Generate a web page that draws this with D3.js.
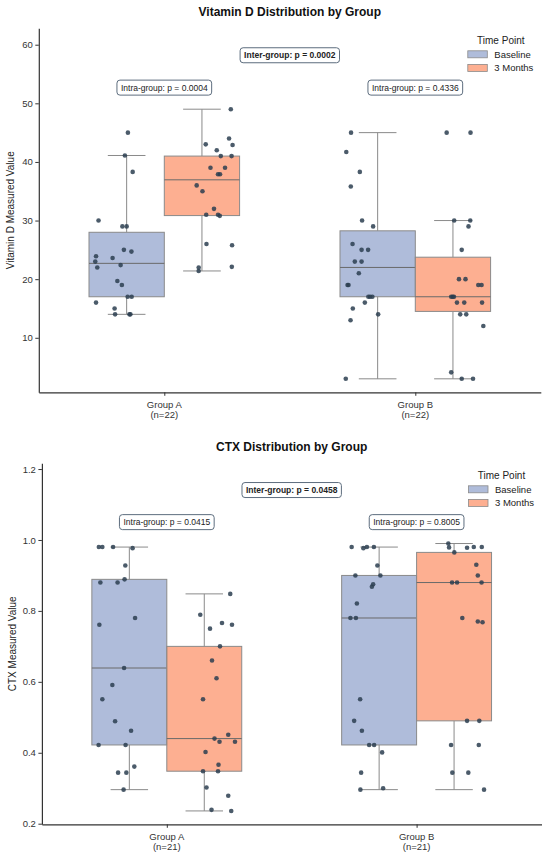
<!DOCTYPE html>
<html>
<head>
<meta charset="utf-8">
<script src="https://cdn.jsdelivr.net/npm/d3@7"></script>
<style>
body{margin:0;background:#fff}
svg{display:block;font-family:"Liberation Sans",Arial,sans-serif}
</style>
</head>
<body>
<svg id="fig"></svg>
<script>
var groups = ["Group A", "Group B"];
var timePoints = ["Baseline", "3 Months"];

// Vitamin D (jitter = horizontal offset in category units)
var vitdBaseA = [45.0,41.1,38.3,30.0,29.0,29.0,25.0,24.7,23.9,23.6,23.0,22.4,22.0,19.7,19.0,17.0,17.0,16.0,15.0,14.0,14.0,14.0];
var vitdBaseAJit = [0.005,-0.007,0.024,-0.112,-0.017,0.0,-0.011,0.019,-0.122,-0.056,-0.125,-0.024,-0.117,-0.037,-0.019,0.004,0.020,-0.122,-0.048,-0.046,0.011,0.015];
var vitd3mA = [49.0,44.0,43.0,42.9,42.0,41.0,41.0,39.0,39.0,37.9,37.9,36.0,35.0,32.0,31.0,31.0,30.8,26.0,25.8,22.1,22.0,21.4];
var vitd3mAJit = [0.115,0.108,0.015,0.122,0.059,0.075,0.118,0.034,0.092,0.064,0.072,-0.021,0.002,0.048,0.017,0.064,0.071,0.018,0.120,0.119,-0.013,-0.013];
var vitdBaseB = [45.0,41.7,38.3,35.8,30.0,29.0,26.0,25.0,25.0,23.0,23.0,21.0,19.0,19.0,17.0,17.0,17.0,16.0,15.0,14.0,13.0,3.0];
var vitdBaseBJit = [-0.106,-0.125,-0.071,-0.107,-0.062,-0.018,-0.100,-0.064,-0.038,-0.091,-0.064,-0.075,-0.120,-0.116,-0.037,-0.030,-0.021,-0.051,-0.099,0.002,-0.108,-0.127];
var vitd3mB = [45.0,45.0,30.0,30.0,29.0,25.0,20.0,20.0,19.0,19.0,17.0,17.0,17.0,16.0,16.0,16.0,14.0,14.0,12.0,4.1,3.0,3.0];
var vitd3mBJit = [-0.025,0.070,0.005,0.069,0.062,0.035,0.024,0.050,0.101,0.114,-0.007,-0.001,0.004,0.016,0.045,0.116,0.029,0.053,0.121,-0.007,0.035,0.080];

// CTX
var ctxBaseA = [0.98,0.98,0.98,0.977,0.928,0.889,0.880,0.880,0.780,0.761,0.639,0.591,0.551,0.489,0.462,0.422,0.422,0.361,0.344,0.344,0.296];
var ctxBaseAJit = [-0.122,-0.108,-0.065,0.013,-0.016,-0.019,-0.116,-0.047,0.023,-0.120,-0.021,-0.068,-0.108,-0.057,0.007,-0.123,-0.015,0.020,-0.045,-0.012,-0.023];
var ctx3mA = [0.848,0.789,0.766,0.761,0.750,0.700,0.660,0.610,0.551,0.451,0.440,0.431,0.431,0.402,0.366,0.348,0.348,0.302,0.279,0.239,0.236];
var ctx3mAJit = [0.104,-0.016,0.071,0.111,0.023,0.063,0.031,0.049,-0.005,0.096,0.041,0.061,0.123,0.005,0.057,-0.005,0.055,0.009,0.096,0.029,0.108];
var ctxBaseB = [0.98,0.977,0.98,0.98,0.928,0.900,0.900,0.875,0.868,0.821,0.780,0.780,0.551,0.490,0.462,0.422,0.422,0.401,0.344,0.300,0.296];
var ctxBaseBJit = [-0.110,-0.063,-0.049,-0.021,-0.007,-0.095,0.005,-0.024,-0.029,-0.089,-0.115,-0.093,-0.076,-0.100,-0.069,-0.040,-0.020,0.012,-0.072,0.016,-0.075];
var ctx3mB = [0.99,0.979,0.965,0.978,0.98,0.98,0.930,0.900,0.88,0.88,0.88,0.780,0.770,0.768,0.490,0.490,0.422,0.422,0.344,0.344,0.296];
var ctx3mBJit = [-0.023,-0.020,0.001,0.052,0.079,0.111,0.089,0.095,-0.008,0.012,0.110,0.033,0.095,0.114,0.052,0.101,-0.012,0.099,-0.007,0.057,0.120];

var vitdTicks = [10,20,30,40,50,60];
var ctxTicks = [0.2,0.4,0.6,0.8,1.0,1.2];

var vitdIntraP = ["0.0004","0.4336"];
var vitdInterP = "0.0002";
var ctxIntraP = ["0.0415","0.8005"];
var ctxInterP = "0.0458";

var screen = {width:550, height:858};
var colors = ["#8da0cb", "#fc8d62"];
var lineColor = "#8a8a8a";

var svg = d3.select("#fig")
  .attr("width", screen.width)
  .attr("height", screen.height);

var boxStats = function(vals){
  var s = vals.slice().sort(d3.ascending);
  var q1 = d3.quantileSorted(s, 0.25),
      med = d3.quantileSorted(s, 0.5),
      q3 = d3.quantileSorted(s, 0.75);
  var iqr = q3 - q1;
  var lo = d3.min(s.filter(function(v){ return v >= q1 - 1.5*iqr; }));
  var hi = d3.max(s.filter(function(v){ return v <= q3 + 1.5*iqr; }));
  return {q1:q1, med:med, q3:q3, lo:lo, hi:hi};
};

var drawChart = function(cfg){
  var g = svg.append("g");
  var m = cfg.margins;

  var all = d3.merge(cfg.series.map(function(s){ return d3.merge([s[0], s[2]]); }));
  var ext = d3.extent(all), span = ext[1] - ext[0];

  var x = d3.scaleLinear().domain([-0.5, 1.5]).range([m.left, m.right]);
  var y = d3.scaleLinear().domain([ext[0] - 0.05*span, ext[1] + 0.3*span]).range([m.bottom, m.top]);

  // title
  g.append("text")
    .attr("x", (m.left + m.right)/2).attr("y", m.top - 12.5)
    .attr("text-anchor", "middle")
    .style("font-weight", "bold").style("font-size", "12px").style("fill", "#111")
    .text(cfg.title);

  // boxes + strips
  cfg.series.forEach(function(s, gi){
    [0, 1].forEach(function(ti){
      var vals = s[ti*2], jit = s[ti*2 + 1];
      var c = gi + (ti === 0 ? -0.15 : 0.15);
      var st = boxStats(vals);
      var bw = x(0.15) - x(0), cw = x(0.075) - x(0);
      var bg = g.append("g");
      bg.append("line")
        .attr("x1", x(c)).attr("x2", x(c)).attr("y1", y(st.q3)).attr("y2", y(st.hi))
        .attr("stroke", lineColor).attr("stroke-width", 1);
      bg.append("line")
        .attr("x1", x(c)).attr("x2", x(c)).attr("y1", y(st.q1)).attr("y2", y(st.lo))
        .attr("stroke", lineColor).attr("stroke-width", 1);
      [st.hi, st.lo].forEach(function(v){
        bg.append("line")
          .attr("x1", x(c) - cw).attr("x2", x(c) + cw).attr("y1", y(v)).attr("y2", y(v))
          .attr("stroke", lineColor).attr("stroke-width", 1);
      });
      bg.append("rect")
        .attr("x", x(c) - bw).attr("width", 2*bw)
        .attr("y", y(st.q3)).attr("height", y(st.q1) - y(st.q3))
        .attr("fill", colors[ti]).attr("fill-opacity", 0.7)
        .attr("stroke", lineColor).attr("stroke-width", 1);
      bg.append("line")
        .attr("x1", x(c) - bw).attr("x2", x(c) + bw).attr("y1", y(st.med)).attr("y2", y(st.med))
        .attr("stroke", "#6a6a6a").attr("stroke-width", 1);

      bg.selectAll("circle").data(vals).enter().append("circle")
        .attr("cx", function(d, i){ return x(c + jit[i]); })
        .attr("cy", function(d){ return y(d); })
        .attr("r", 2.3)
        .style("fill", "#2c3e50").style("fill-opacity", 0.85);
    });
  });

  // axes
  var yAxis = d3.axisLeft(y).tickValues(cfg.ticks).tickFormat(cfg.fmt).tickSize(3.5).tickSizeOuter(0).tickPadding(2.5);
  var ya = g.append("g").attr("transform", "translate(" + m.left + ",0)").call(yAxis);
  var xAxis = d3.axisBottom(x).tickValues([0, 1]).tickFormat("").tickSize(3.5).tickSizeOuter(0);
  var xa = g.append("g").attr("transform", "translate(0," + m.bottom + ")").call(xAxis);
  [ya, xa].forEach(function(a){
    a.select(".domain").attr("stroke", "#333").attr("stroke-width", 1.2);
    a.selectAll(".tick line").attr("stroke", "#333").attr("stroke-width", 1);
    a.selectAll("text").style("font-size", "9.5px").style("fill", "#333").style("font-family", "inherit");
  });

  groups.forEach(function(name, gi){
    var t = g.append("text").attr("x", x(gi)).attr("y", m.bottom + 15.5)
      .attr("text-anchor", "middle").style("font-size", "9.5px").style("fill", "#333");
    t.append("tspan").attr("x", x(gi)).text(name);
    t.append("tspan").attr("x", x(gi)).attr("dy", 10).text("(n=" + cfg.series[gi][0].length + ")");
  });

  g.append("text")
    .attr("transform", "translate(" + cfg.ylabelX + "," + ((m.top + m.bottom)/2) + ") rotate(-90)")
    .attr("dy", "0.35em").attr("text-anchor", "middle")
    .style("font-size", "10px").style("fill", "#222")
    .text(cfg.ylabel);

  // p-value labels
  var label = function(cx, v, txt, bold){
    var lg = g.append("g");
    var t = lg.append("text").attr("x", cx).attr("y", y(v)).attr("dy", "0.35em")
      .attr("text-anchor", "middle").style("font-size", "8.5px").style("fill", "#222")
      .style("font-weight", bold ? "bold" : "normal").text(txt);
    var w = t.node().getComputedTextLength();
    lg.insert("rect", "text")
      .attr("x", cx - w/2 - 4).attr("width", w + 8)
      .attr("y", y(v) - 7.5).attr("height", 15)
      .attr("rx", 3).attr("fill", "#fff")
      .attr("stroke", "#5d6d7e").attr("stroke-width", 1);
  };
  label(x(0.5), ext[1] + 0.2*span, "Inter-group: p = " + cfg.interP, true);
  cfg.intraP.forEach(function(p, gi){
    label(x(gi), ext[1] + 0.08*span, "Intra-group: p = " + p, false);
  });

  // legend
  var lx = m.right - 73;
  var leg = g.append("g");
  leg.append("text").attr("x", lx + 33).attr("y", m.top + 12.5).attr("dy", "0.35em")
    .attr("text-anchor", "middle").style("font-size", "10px").style("fill", "#222").text("Time Point");
  timePoints.forEach(function(tp, ti){
    var ly = m.top + 26 + ti*13.6;
    leg.append("rect").attr("x", lx).attr("y", ly - 3.5).attr("width", 19.5).attr("height", 7)
      .attr("fill", colors[ti]).attr("fill-opacity", 0.7)
      .attr("stroke", lineColor).attr("stroke-width", 0.8);
    leg.append("text").attr("x", lx + 26.5).attr("y", ly).attr("dy", "0.35em")
      .style("font-size", "9.5px").style("fill", "#222").text(tp);
  });
};

drawChart({
  title: "Vitamin D Distribution by Group",
  ylabel: "Vitamin D Measured Value",
  ylabelX: 10,
  margins: {left:38.8, right:540.8, top:28.3, bottom:392.3},
  series: [[vitdBaseA, vitdBaseAJit, vitd3mA, vitd3mAJit], [vitdBaseB, vitdBaseBJit, vitd3mB, vitd3mBJit]],
  ticks: vitdTicks,
  fmt: d3.format("d"),
  intraP: vitdIntraP,
  interP: vitdInterP
});

drawChart({
  title: "CTX Distribution by Group",
  ylabel: "CTX Measured Value",
  ylabelX: 12.7,
  margins: {left:41.9, right:541.5, top:463.3, bottom:824.3},
  series: [[ctxBaseA, ctxBaseAJit, ctx3mA, ctx3mAJit], [ctxBaseB, ctxBaseBJit, ctx3mB, ctx3mBJit]],
  ticks: ctxTicks,
  fmt: d3.format(".1f"),
  intraP: ctxIntraP,
  interP: ctxInterP
});
</script>
</body>
</html>
